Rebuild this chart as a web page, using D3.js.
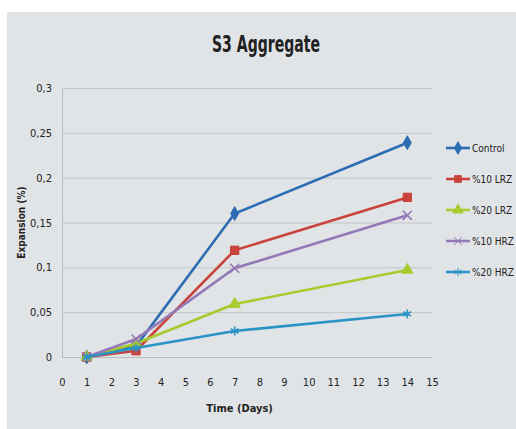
<!DOCTYPE html>
<html>
<head>
<meta charset="utf-8">
<script src="https://cdn.jsdelivr.net/npm/d3@7"></script>
<style>
  body { margin:0; background:#fff; }
  text { font-family:"DejaVu Sans Condensed","DejaVu Sans",sans-serif; font-stretch:condensed; fill:#222; }
</style>
</head>
<body>
<div id="canvas"></div>
<script>
// chart values
var days = [1, 3, 7, 14];
var seriesNames = ['Control', '%10 LRZ', '%20 LRZ', '%10 HRZ', '%20 HRZ'];
var control = [0, 0.012, 0.16, 0.239];
var lrz10 = [0, 0.007, 0.119, 0.178];
var lrz20 = [0, 0.015, 0.059, 0.097];
var hrz10 = [0, 0.02, 0.099, 0.158];
var hrz20 = [0, 0.01, 0.029, 0.048];
var yTicks = [0, 0.05, 0.1, 0.15, 0.2, 0.25, 0.3];
var xTicks = d3.range(0, 16);

var colors = ['#2c6db3', '#c9423b', '#a6cb2c', '#9479b6', '#2b93c6'];
var symbols = [d3.symbolDiamond, d3.symbolSquare, d3.symbolTriangle, d3.symbolX, d3.symbolAsterisk];
var allValues = [control, lrz10, lrz20, hrz10, hrz20];

var W = 516, H = 429;
var m = {t:88, r:84, b:72, l:62};
var w = W - m.l - m.r, h = H - m.t - m.b;

var svg = d3.select('#canvas').append('svg')
    .attr('width', W).attr('height', H);

// photo-like grey background
svg.append('rect').attr('x', 7).attr('y', 12).attr('width', W - 7).attr('height', H - 12)
    .attr('fill', '#e1e4e7');

svg.append('text').attr('x', 266).attr('y', 52)
    .attr('text-anchor', 'middle')
    .attr('textLength', 108).attr('lengthAdjust', 'spacingAndGlyphs')
    .style('font-size', '23px').style('font-weight', 'bold')
    .text('S3 Aggregate');

var plot = svg.append('g').attr('transform', 'translate(' + m.l + ',' + m.t + ')');

var scaleX = d3.scaleLinear().domain([0, 15]).range([0, w]);
var scaleY = d3.scaleLinear().domain([0, 0.3]).range([h, 0]);

var fmt = function(d){ return String(d).replace('.', ','); };

// y grid + labels
var axisY = d3.axisLeft(scaleY).tickValues(yTicks).tickSize(-w).tickFormat(fmt);
var gy = plot.append('g').call(axisY);
gy.select('.domain').attr('stroke', '#b9bcbf');
gy.selectAll('line').attr('stroke', '#c3c6c9');
gy.selectAll('text').attr('x', -10).style('font-size', '11px').attr('fill', '#222');

// x axis
var axisX = d3.axisBottom(scaleX).tickValues(xTicks).tickSize(0).tickFormat(d3.format('d'));
var gx = plot.append('g').attr('transform', 'translate(0,' + h + ')').call(axisX);
gx.select('.domain').attr('stroke', '#b9bcbf');
gx.selectAll('text').attr('y', 21).style('font-size', '11px').attr('fill', '#222');

svg.append('text').attr('transform', 'translate(25,' + (m.t + h / 2) + ') rotate(-90)')
    .attr('text-anchor', 'middle').style('font-size', '10px').style('font-weight', 'bold')
    .text('Expansion (%)');

svg.append('text').attr('x', m.l + scaleX(7.2)).attr('y', 412)
    .attr('text-anchor', 'middle').style('font-size', '11px').style('font-weight', 'bold')
    .text('Time (Days)');

var line = d3.line()
    .x(function(d){ return scaleX(d.x); })
    .y(function(d){ return scaleY(d.y); });

function markerPath(i, size){
  return d3.symbol().type(symbols[i]).size(size)();
}

allValues.forEach(function(vals, i){
  var pts = days.map(function(d, j){ return {x:d, y:vals[j]}; });
  plot.append('path').datum(pts)
      .attr('d', line).attr('fill', 'none')
      .attr('stroke', colors[i]).attr('stroke-width', 2.6);
  plot.selectAll('.mk' + i).data(pts).enter()
      .append('path').attr('class', 'mk' + i)
      .attr('transform', function(d){ return 'translate(' + scaleX(d.x) + ',' + scaleY(d.y) + ')'; })
      .attr('d', markerPath(i, i == 1 ? 70 : 55))
      .attr('fill', colors[i])
      .attr('stroke', colors[i])
      .attr('stroke-width', (i >= 3) ? 1.6 : 1);
});

// legend
var legend = svg.append('g').attr('transform', 'translate(446,148)');
seriesNames.forEach(function(name, i){
  var g = legend.append('g').attr('transform', 'translate(0,' + (i * 31) + ')');
  g.append('line').attr('x1', 0).attr('x2', 24).attr('stroke', colors[i]).attr('stroke-width', 2.6);
  g.append('path').attr('transform', 'translate(12,0)')
      .attr('d', markerPath(i, 45)).attr('fill', colors[i]).attr('stroke', colors[i]);
  g.append('text').attr('x', 26).attr('y', 4).style('font-size', '10px').text(name);
});
</script>
</body>
</html>
